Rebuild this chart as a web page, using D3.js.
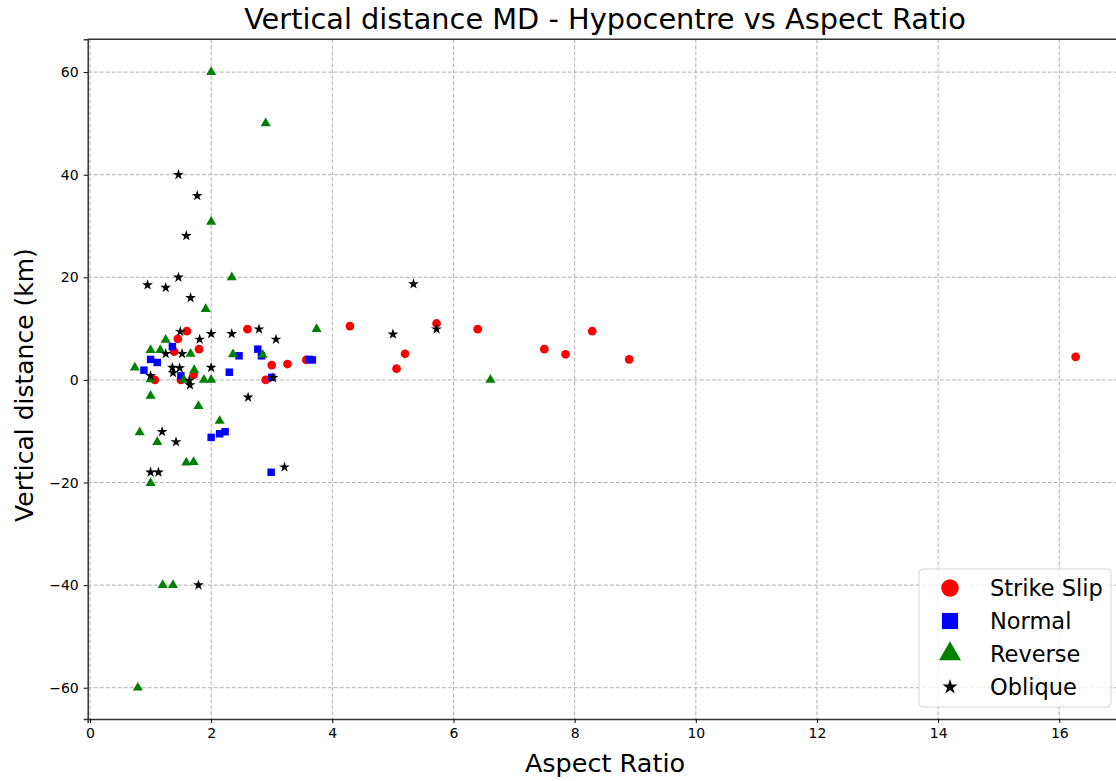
<!DOCTYPE html>
<html><head><meta charset="utf-8">
<script src="https://cdn.jsdelivr.net/npm/d3@7"></script>
<style>body{margin:0;background:#fff;} text{font-family:"DejaVu Sans",sans-serif;}</style>
</head><body><svg id="chart" width="1116" height="781"></svg>
<script>
const strikeSlipX = [1.6,1.45,1.39,1.8,1.07,1.5,1.71,2.6,3.0,3.26,3.57,2.9,4.29,5.72,5.2,5.06,6.4,7.5,7.85,8.29,8.9,16.27];
const strikeSlipY = [9.5,8,5.5,6,0,0,1,9.9,2.9,3.1,3.9,0,10.5,11,5.1,2.2,9.9,6,5,9.5,4,4.5];
const normalX = [1.36,1.0,1.11,0.89,1.5,2.46,2.3,2.77,2.83,3.0,3.67,3.62,2.0,2.14,2.23,2.99];
const normalY = [6.5,4.0,3.4,1.9,0.8,4.7,1.5,6,4.7,0.5,3.9,4,-11.2,-10.5,-10.1,-18];
const reverseX = [2.0,2.9,2.0,2.34,1.91,3.74,1.25,1.0,1.16,1.66,2.36,0.74,1.72,1.88,2.0,1.0,1.55,1.0,1.79,2.14,2.85,0.82,1.11,1.59,1.71,1.0,1.2,1.37,0.79,6.61];
const reverseY = [60,50,30.8,20,13.8,9.9,7.8,5.8,5.8,5.1,5,2.4,1.9,0,0,0.1,0,-3.1,-5.1,-8,4.9,-10.2,-12.1,-16.1,-16,-20.1,-40,-40,-60,0];
const obliqueX = [1.46,1.77,1.59,1.46,0.95,1.25,1.66,5.34,1.49,2.0,2.34,2.79,3.07,1.81,1.25,1.52,1.36,1.48,2.0,1.37,1.0,1.64,1.65,2.61,3.02,3.21,5.0,5.72,1.19,1.42,1.0,1.13,1.79];
const obliqueY = [40,35.9,28.1,20,18.5,18,16,18.7,9.4,9,9,9.9,7.9,7.9,5.1,5.1,2.4,2.3,2.4,1.4,0.8,-0.1,-1,-3.4,0.4,-17,8.9,9.9,-10.1,-12.1,-18,-18,-40];
const xTicks = [0,2,4,6,8,10,12,14,16];
const yTicks = [-60,-40,-20,0,20,40,60];
const seriesNames = ["Strike Slip","Normal","Reverse","Oblique"];

const svg = d3.select("#chart");
const L = 87.7, R = 1122.9, T = 39.3, B = 719;
const x = d3.scaleLinear().domain([-0.038, 17.05]).range([L, R]);
const y = d3.scaleLinear().domain([-66.1, 66.4]).range([B, T]);

const series = [
  {name: seriesNames[0], xs: strikeSlipX, ys: strikeSlipY, color: "#ff0000", sym: d3.symbolCircle, size: 60, lsize: 240},
  {name: seriesNames[1], xs: normalX, ys: normalY, color: "#0000ff", sym: d3.symbolSquare, size: 56, lsize: 260},
  {name: seriesNames[2], xs: reverseX, ys: reverseY, color: "#008000", sym: d3.symbolTriangle, size: 44, lsize: 210},
  {name: seriesNames[3], xs: obliqueX, ys: obliqueY, color: "#000000", sym: d3.symbolStar, size: 36, lsize: 70}
];

// grid
const g = svg.append("g");
g.selectAll(".gx").data(xTicks).enter().append("line")
  .attr("x1", d => x(d)).attr("x2", d => x(d)).attr("y1", T).attr("y2", B)
  .attr("stroke", "#b0b0b0").attr("stroke-width", 1).attr("stroke-dasharray", "4,2");
g.selectAll(".gy").data(yTicks).enter().append("line")
  .attr("y1", d => y(d)).attr("y2", d => y(d)).attr("x1", L).attr("x2", R)
  .attr("stroke", "#b0b0b0").attr("stroke-width", 1).attr("stroke-dasharray", "4,2");

// points
const plot = svg.append("g");
series.forEach(s => {
  const sym = d3.symbol().type(s.sym).size(s.size);
  plot.selectAll(null).data(s.xs.map((v, i) => [v, s.ys[i]])).enter().append("path")
    .attr("d", sym)
    .attr("transform", d => `translate(${x(d[0])},${y(d[1])})`)
    .attr("fill", s.color);
});

// axes
const fmt = d => d < 0 ? "\u2212" + Math.abs(d) : String(d);
const xAxis = svg.append("g").attr("transform", `translate(0,${B})`)
  .call(d3.axisBottom(x).tickValues(xTicks).tickFormat(fmt).tickSize(4).tickPadding(5));
const yAxis = svg.append("g").attr("transform", `translate(${L},0)`)
  .call(d3.axisLeft(y).tickValues(yTicks).tickFormat(fmt).tickSize(4).tickPadding(5));
[xAxis, yAxis].forEach(a => {
  a.selectAll("text").attr("font-size", 14).attr("fill", "#000").attr("font-family", "DejaVu Sans");
  a.selectAll(".tick line").attr("stroke", "#000");
  a.select(".domain").attr("stroke", "#333").attr("stroke-width", 1.5);
});
svg.append("line").attr("x1", L).attr("x2", R).attr("y1", T).attr("y2", T).attr("stroke", "#333").attr("stroke-width", 1.5);
svg.append("line").attr("x1", R).attr("x2", R).attr("y1", T).attr("y2", B).attr("stroke", "#333").attr("stroke-width", 1.5);

// labels
svg.append("text").attr("x", 605).attr("y", 29).attr("text-anchor", "middle")
  .attr("font-size", 28.8).text("Vertical distance MD - Hypocentre vs Aspect Ratio");
svg.append("text").attr("x", 605).attr("y", 772).attr("text-anchor", "middle")
  .attr("font-size", 25.5).text("Aspect Ratio");
svg.append("text").attr("transform", "translate(33,385) rotate(-90)").attr("text-anchor", "middle")
  .attr("font-size", 25).text("Vertical distance (km)");

// legend
const lg = svg.append("g");
lg.append("rect").attr("x", 919).attr("y", 569).attr("width", 192).attr("height", 138).attr("rx", 4)
  .attr("fill", "#fff").attr("fill-opacity", 0.8).attr("stroke", "#d6d6d6");
series.forEach((s, i) => {
  const cy = 588 + i * 33;
  lg.append("path").attr("d", d3.symbol().type(s.sym).size(s.lsize)).attr("transform", `translate(950,${cy})`).attr("fill", s.color);
  lg.append("text").attr("x", 990).attr("y", cy + 8).attr("font-size", 22.5).text(s.name);
});
</script></body></html>
